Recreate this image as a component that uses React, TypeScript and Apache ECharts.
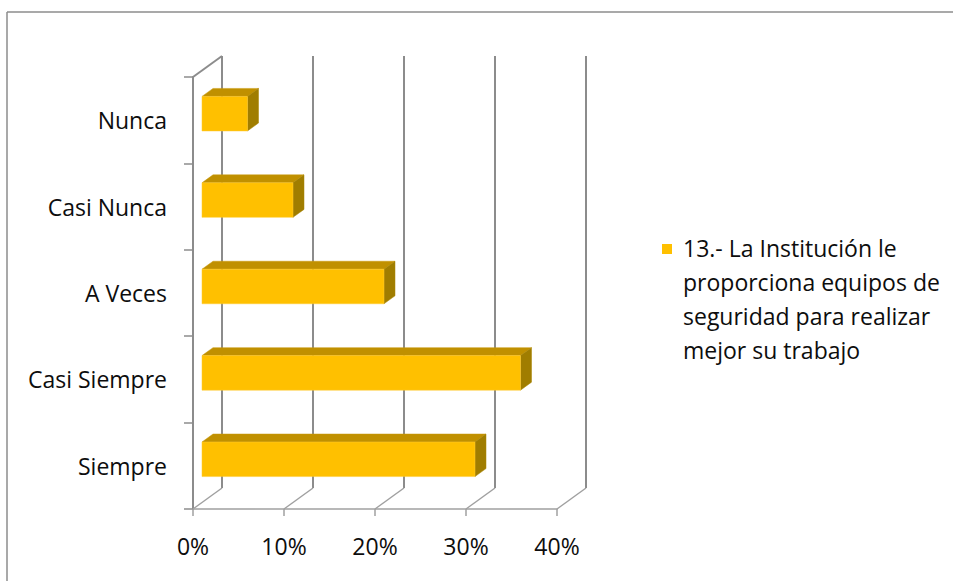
import React, { useEffect, useRef } from "react";
import * as echarts from "echarts";

const categories = ["Siempre", "Casi Siempre", "A Veces", "Casi Nunca", "Nunca"];
const values = [30, 35, 20, 10, 5];
const xTicks = [0, 10, 20, 30, 40];
const seriesName = "13.- La Institución le proporciona equipos de seguridad para realizar mejor su trabajo";
const legendLines = ["13.- La Institución le", "proporciona equipos de", "seguridad para realizar", "mejor su trabajo"];

const FONT = "'Open Sans', 'Noto Sans', sans-serif";
const DX = 29;
const DY = -21;
const F1 = 0.31;
const F2 = 0.69;

export default function App() {
  const ref = useRef<HTMLDivElement>(null);
  useEffect(() => {
    document.body.style.margin = "0";
    const chart = echarts.init(ref.current!, null, { renderer: "svg" });
    const wallColor = "#8c8c8c";
    const floorColor = "#a0a0a0";
    chart.setOption({
      animation: false,
      backgroundColor: "#ffffff",
      grid: { left: 193, right: 396, top: 77, bottom: 72 },
      xAxis: {
        type: "value",
        min: 0,
        max: 40,
        interval: 10,
        axisLine: { show: true, lineStyle: { color: floorColor, width: 1.5 } },
        axisTick: { show: true, length: 7, lineStyle: { color: floorColor, width: 1.5 } },
        splitLine: { show: false },
        axisLabel: {
          formatter: "{value}%",
          fontFamily: FONT,
          fontSize: 23,
          color: "#0d0d0d",
          margin: 25,
        },
      },
      yAxis: {
        type: "category",
        data: categories,
        axisLine: { show: true, lineStyle: { color: wallColor, width: 2 } },
        axisTick: { show: true, length: 9, lineStyle: { color: wallColor, width: 1.5 } },
        axisLabel: {
          fontFamily: FONT,
          fontSize: 23,
          color: "#0d0d0d",
          margin: 26,
          padding: [5, 0, 0, 0],
        },
      },
      graphic: [
        { type: "line", shape: { x1: 7, y1: 12, x2: 953, y2: 12 }, style: { stroke: "#8c8c8c", lineWidth: 1.5 } },
        { type: "line", shape: { x1: 7, y1: 12, x2: 7, y2: 581 }, style: { stroke: "#8c8c8c", lineWidth: 1.5 } },
        { type: "rect", shape: { x: 662, y: 244, width: 10, height: 10 }, style: { fill: "#FFC000" } },
        {
          type: "text",
          x: 683,
          y: 231,
          style: {
            text: legendLines.join("\n"),
            fontFamily: FONT,
            fontSize: 23,
            lineHeight: 34,
            fill: "#0d0d0d",
          },
        },
      ],
      series: [
        {
          type: "custom",
          name: "walls",
          silent: true,
          clip: false,
          data: [[0, 0]],
          encode: { x: 0, y: 1 },
          renderItem: (params: any, api: any) => {
            const cs = params.coordSys;
            const top = cs.y;
            const bottom = cs.y + cs.height;
            const children: any[] = [];
            const x0 = api.coord([xTicks[0], 0])[0];
            children.push({
              type: "line",
              shape: { x1: x0, y1: top, x2: x0 + DX, y2: top + DY },
              style: { stroke: wallColor, lineWidth: 2 },
            });
            xTicks.forEach((t) => {
              const x = api.coord([t, 0])[0];
              children.push({
                type: "line",
                shape: { x1: x + DX, y1: top + DY, x2: x + DX, y2: bottom + DY },
                style: { stroke: wallColor, lineWidth: 2 },
              });
              children.push({
                type: "line",
                shape: { x1: x, y1: bottom, x2: x + DX, y2: bottom + DY },
                style: { stroke: floorColor, lineWidth: 1.5 },
              });
            });
            return { type: "group", children };
          },
          z: 1,
        },
        {
          type: "custom",
          name: seriesName,
          clip: false,
          data: values.map((v, i) => [v, i]),
          encode: { x: 0, y: 1 },
          renderItem: (params: any, api: any) => {
            const v = api.value(0);
            const idx = api.value(1);
            const p0 = api.coord([0, idx]);
            const p1 = api.coord([v, idx]);
            const band = api.size([0, 1])[1];
            const h = band * 0.4;
            const fx = DX * F1;
            const fy = DY * F1;
            const bx = DX * (F2 - F1);
            const by = DY * (F2 - F1);
            const xl = p0[0] + fx;
            const xr = p1[0] + fx;
            const yc = p0[1] + fy;
            const yt = yc - h / 2;
            const yb = yc + h / 2;
            return {
              type: "group",
              children: [
                {
                  type: "polygon",
                  shape: { points: [[xl, yt], [xr, yt], [xr + bx, yt + by], [xl + bx, yt + by]] },
                  style: { fill: "#C09000", stroke: "#C8980a", lineWidth: 0.5 },
                },
                {
                  type: "polygon",
                  shape: { points: [[xr, yt], [xr + bx, yt + by], [xr + bx, yb + by], [xr, yb]] },
                  style: { fill: "#A07D00", stroke: "#A88400", lineWidth: 0.5 },
                },
                {
                  type: "rect",
                  shape: { x: xl, y: yt, width: xr - xl, height: h },
                  style: { fill: "#FFC000", stroke: "#FFCB33", lineWidth: 0.5 },
                },
              ],
            };
          },
          z: 2,
        },
      ],
    });
    return () => chart.dispose();
  }, []);
  return <div ref={ref} style={{ width: 953, height: 581 }} />;
}
